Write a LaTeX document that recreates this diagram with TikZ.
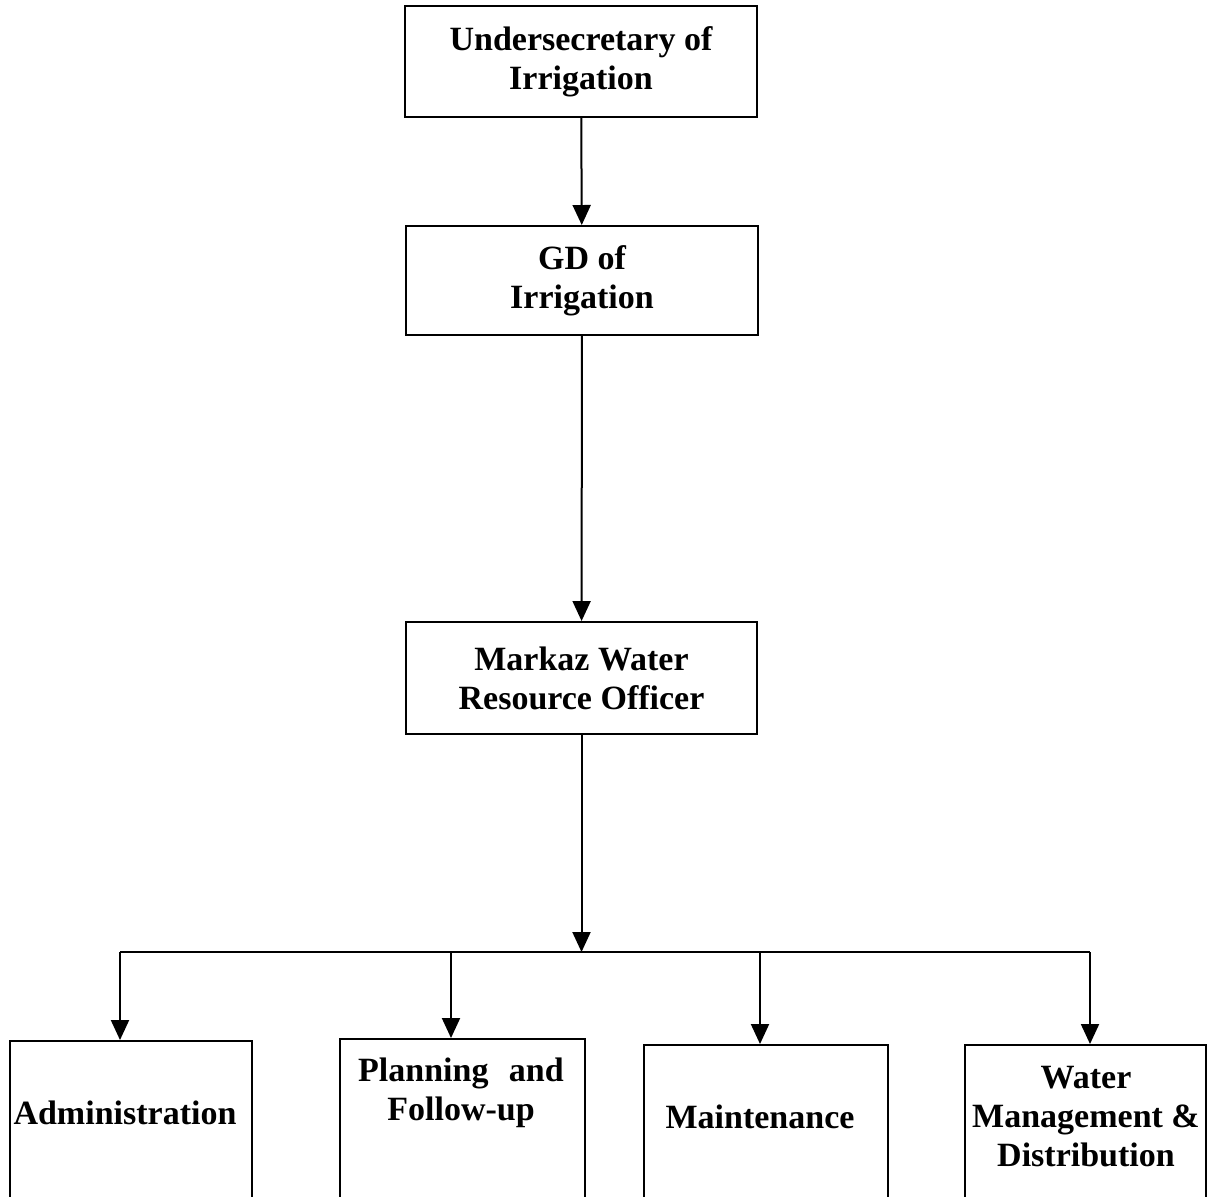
\documentclass[tikz,border=0pt]{standalone}
\usepackage{fontspec}
\setmainfont{Liberation Serif}
\usetikzlibrary{arrows.meta}

\begin{document}
\begin{tikzpicture}[x = 0.5pt, y = -0.5pt,
	box/.style = {draw, line width = 1pt, inner sep = 0pt},
	txt/.style = {align = center, inner sep = 0pt, font = \bfseries\fontsize{17}{19.5}\selectfont},
	arr/.style = {-{Triangle[length = 10pt, width = 9pt]}, line width = 1pt}]
	\useasboundingbox (0,0) rectangle (1208,1196);
	% upper levels
	\node[box, txt, minimum width = 176pt, minimum height = 55.5pt] (usec) at (581,61.5) {Undersecretary of\\Irrigation};
	\node[box, txt, minimum width = 176pt, minimum height = 54.5pt] (gd) at (582,280.5) {GD of\\Irrigation};
	\node[box, txt, minimum width = 175.5pt, minimum height = 56pt] (mwro) at (581.5,678) {Markaz Water\\Resource Officer};
	\coordinate (jn) at (581.5,952);
	\draw[arr] (usec) -- (gd);
	\draw[arr] (gd) -- (mwro);
	\draw[arr] (mwro) -- (jn);
	% departments
	\node[box, minimum width = 121pt, minimum height = 84.5pt] (admin) at (131,1125.5) {};
	\node[box, minimum width = 122.5pt, minimum height = 85.5pt] (plan) at (462.5,1124.5) {};
	\node[box, minimum width = 122pt, minimum height = 82.5pt] (maint) at (766,1127.5) {};
	\node[box, minimum width = 120.5pt, minimum height = 82.5pt] (water) at (1085.5,1127.5) {};
	\node[txt] (admin-t) at (125,1113) {Administration};
	\node[txt] (plan-t) at (461,1093) {Planning\hspace{0.6em}and\\Follow-up};
	\node[txt] (maint-t) at (760,1117) {Maintenance};
	\node[txt] (water-t) at (1086,1117) {Water\\Management \&\\Distribution};
	\foreach \n/\x in {admin/120, plan/451, maint/760, water/1090} {
		\coordinate (d-\n) at (\x,952);
		\draw[arr] (d-\n) -- (d-\n |- \n.north);
	}
	\draw[line width = 1pt] (d-admin) -- (d-water);
\end{tikzpicture}
\end{document}
